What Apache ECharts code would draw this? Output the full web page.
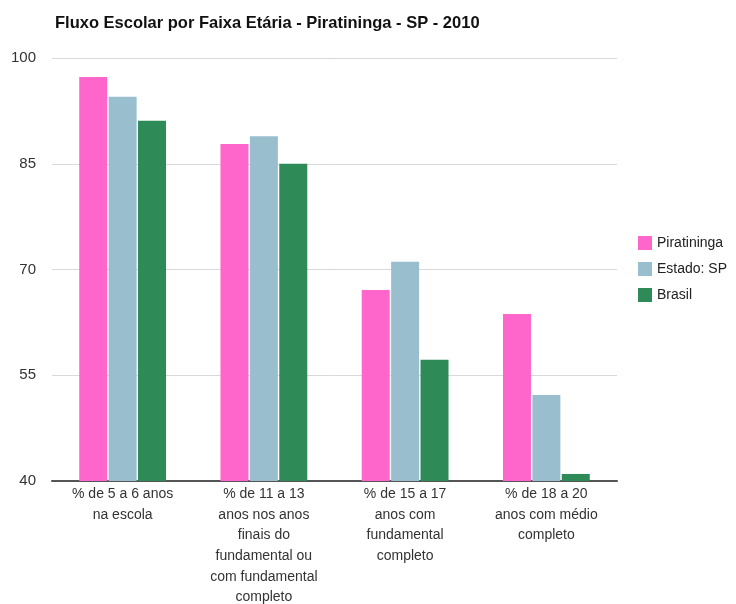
<!DOCTYPE html>
<html>
<head>
<meta charset="utf-8">
<script src="https://cdn.jsdelivr.net/npm/echarts@6/dist/echarts.min.js"></script>
<style>
  html, body { margin: 0; padding: 0; background: #fff; }
  #main { width: 736px; height: 604px; }
</style>
</head>
<body>
<div id="main"></div>
<script>
var categorias = [
    '% de 5 a 6 anos\nna escola',
    '% de 11 a 13\nanos nos anos\nfinais do\nfundamental ou\ncom fundamental\ncompleto',
    '% de 15 a 17\nanos com\nfundamental\ncompleto',
    '% de 18 a 20\nanos com médio\ncompleto'
];
var piratininga = [97.3, 87.8, 67.1, 63.7];
var estadoSP = [94.5, 88.9, 71.1, 52.2];
var brasil = [91.1, 85.0, 57.2, 41.0];
var yTicks = [40, 55, 70, 85, 100];

var myChart = echarts.init(document.getElementById('main'));

var fonte = 'Liberation Sans, Arial, sans-serif';

var option = {
    animation: false,
    title: {
        text: 'Fluxo Escolar por Faixa Etária - Piratininga - SP - 2010',
        left: 50,
        top: 10,
        textStyle: { color: '#111', fontSize: 16.5, fontWeight: 'bold', fontFamily: fonte }
    },
    legend: {
        orient: 'vertical',
        left: 633,
        top: 231,
        itemWidth: 14,
        itemHeight: 14,
        itemGap: 12,
        icon: 'rect',
        textStyle: { color: '#222', fontSize: 14, fontFamily: fonte },
        data: ['Piratininga', 'Estado: SP', 'Brasil']
    },
    grid: { left: 52, right: 119, top: 58, bottom: 123, outerBoundsMode: 'none' },
    xAxis: {
        type: 'category',
        data: categorias,
        axisTick: { show: false },
        axisLine: { lineStyle: { color: '#555', width: 2 } },
        axisLabel: {
            color: '#333',
            fontSize: 14,
            fontFamily: fonte,
            lineHeight: 20.6,
            margin: 3,
            interval: 0
        }
    },
    yAxis: {
        type: 'value',
        min: yTicks[0],
        max: yTicks[yTicks.length - 1],
        interval: 15,
        axisLine: { show: false },
        axisTick: { show: false },
        splitLine: { lineStyle: { color: '#d9d9d9' } },
        axisLabel: { color: '#333', fontSize: 15, fontFamily: fonte, margin: 16 }
    },
    series: [
        {
            name: 'Piratininga', type: 'bar', data: piratininga,
            barWidth: 28, barGap: '5%',
            itemStyle: { color: '#ff66cc' }
        },
        {
            name: 'Estado: SP', type: 'bar', data: estadoSP,
            barWidth: 28, barGap: '5%',
            itemStyle: { color: '#99bfcf' }
        },
        {
            name: 'Brasil', type: 'bar', data: brasil,
            barWidth: 28, barGap: '5%',
            itemStyle: { color: '#2e8b57' }
        }
    ]
};

myChart.setOption(option);
</script>
</body>
</html>
